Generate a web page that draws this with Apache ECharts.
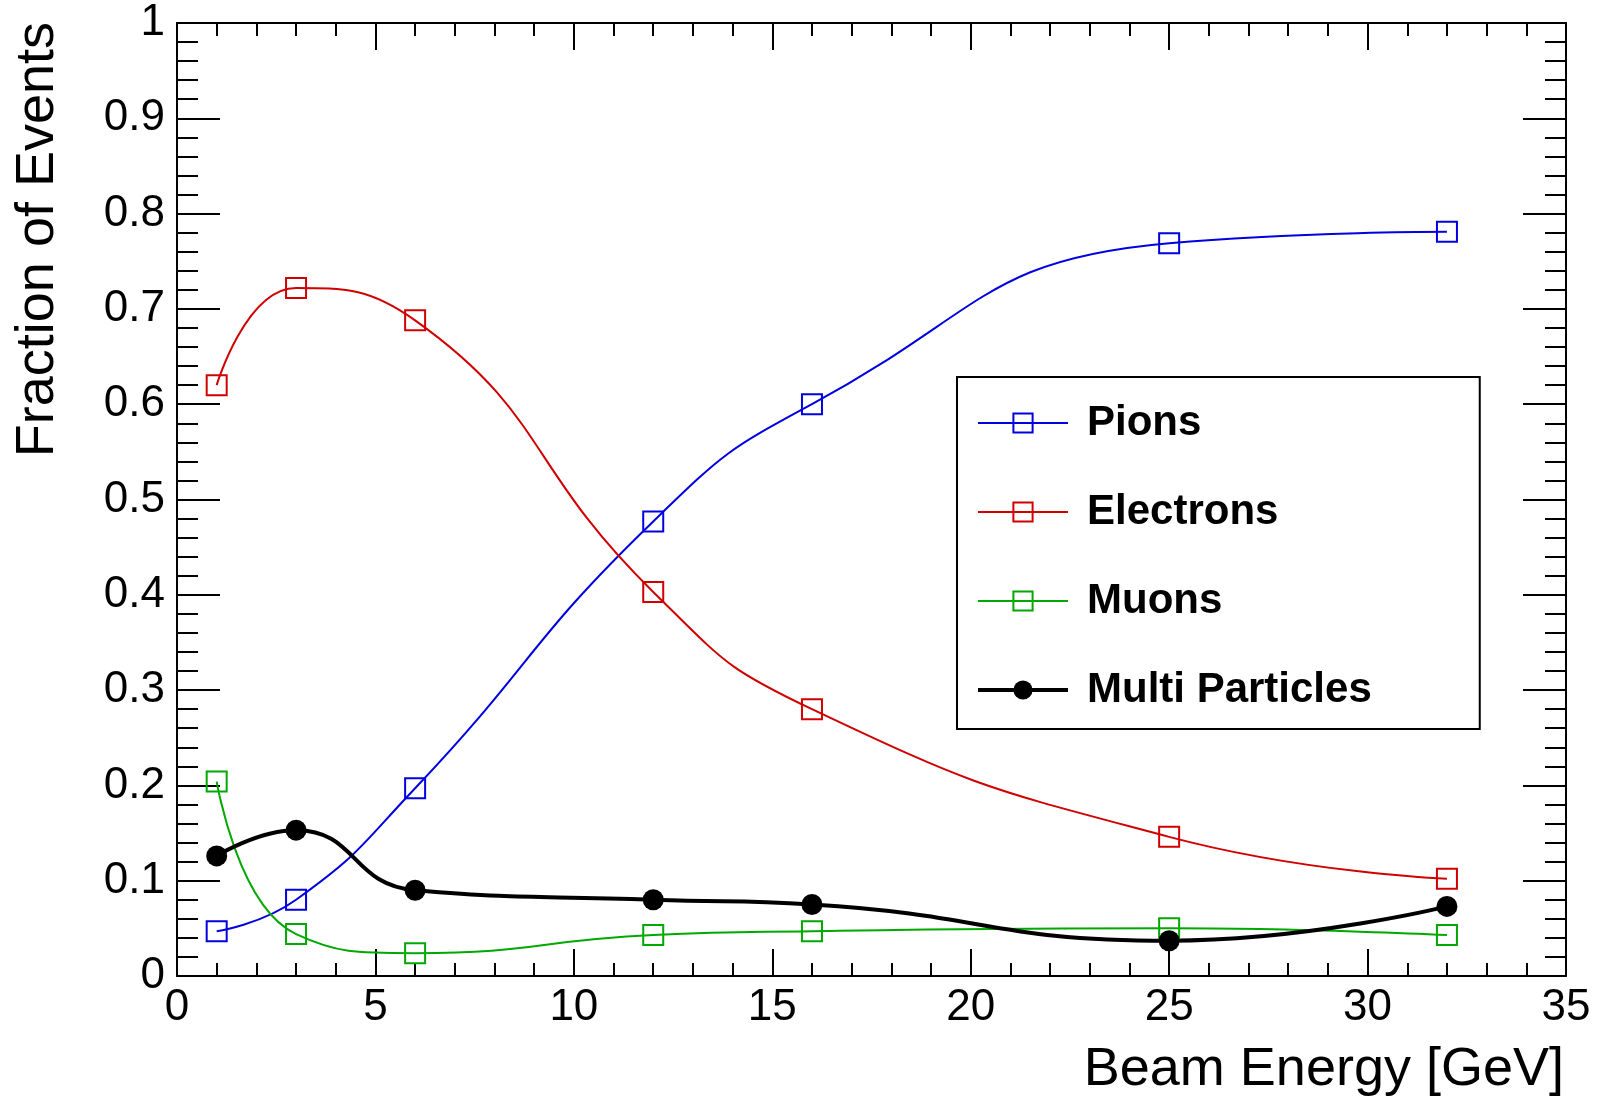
<!DOCTYPE html>
<html>
<head>
    <meta charset="utf-8"/>
    <title>Fraction of Events vs Beam Energy</title>
    <script src="https://cdn.jsdelivr.net/npm/echarts@6/dist/echarts.min.js"></script>
    <style>
        html, body { margin: 0; padding: 0; background: #fff; }
        #chart { width: 1598px; height: 1099px; }
    </style>
</head>
<body>
<div id="chart"></div>
<script>
    // 束流能量 (GeV)
    var energies = [1, 3, 6, 12, 16, 25, 32];
    var pions = [0.047, 0.080, 0.197, 0.477, 0.600, 0.769, 0.781];
    var electrons = [0.620, 0.722, 0.688, 0.403, 0.280, 0.146, 0.102];
    var muons = [0.204, 0.044, 0.024, 0.043, 0.047, 0.050, 0.043];
    var multi = [0.126, 0.153, 0.090, 0.080, 0.075, 0.037, 0.073];

    var FONT = '"Liberation Sans", Arial, Helvetica, sans-serif';

    function pairs(ys) {
        return energies.map(function (x, i) { return [x, ys[i]]; });
    }

    function openSeries(name, ys, color) {
        return {
            name: name,
            type: 'line',
            data: pairs(ys),
            smooth: 0.5,
            symbol: 'rect',
            symbolSize: 20,
            color: color,
            lineStyle: { color: color, width: 2 },
            itemStyle: { color: 'rgba(0,0,0,0)', borderColor: color, borderWidth: 2 }
        };
    }

    // 坐标轴公共样式
    function xAxisCfg(pos, labels) {
        return {
            type: 'value', position: pos, min: 0, max: 35, interval: 5,
            axisLine: { show: true, onZero: false, lineStyle: { color: '#000', width: 2 } },
            axisTick: { show: true, inside: true, length: 27, lineStyle: { color: '#000', width: 2 } },
            minorTick: { show: true, splitNumber: 5, length: 13, lineStyle: { color: '#000', width: 2 } },
            axisLabel: { show: labels, margin: 10, color: '#000', fontSize: 44, fontFamily: FONT,
                showMinLabel: true, showMaxLabel: true },
            splitLine: { show: false }
        };
    }

    function yAxisCfg(pos, labels) {
        return {
            type: 'value', position: pos, min: 0, max: 1, interval: 0.1,
            axisLine: { show: true, onZero: false, lineStyle: { color: '#000', width: 2 } },
            axisTick: { show: true, inside: true, length: 43, lineStyle: { color: '#000', width: 2 } },
            minorTick: { show: true, splitNumber: 5, length: 21, lineStyle: { color: '#000', width: 2 } },
            axisLabel: { show: labels, margin: 12, color: '#000', fontSize: 44, fontFamily: FONT,
                showMinLabel: true, showMaxLabel: true,
                formatter: function (v) { return v === 0 ? '0' : (v === 1 ? '1' : v.toFixed(1)); } },
            splitLine: { show: false }
        };
    }

    var chart = echarts.init(document.getElementById('chart'));
    chart.setOption({
        animation: false,
        backgroundColor: '#fff',
        grid: { left: 177, top: 23, right: 32, bottom: 123, containLabel: false },
        xAxis: [xAxisCfg('bottom', true), xAxisCfg('top', false)],
        yAxis: [yAxisCfg('left', true), yAxisCfg('right', false)],
        legend: {
            orient: 'vertical',
            left: 957,
            top: 377,
            padding: [25, 108, 18, 19],
            itemGap: 47,
            itemWidth: 90,
            itemHeight: 24,
            borderColor: '#000',
            borderWidth: 2,
            backgroundColor: '#fff',
            textStyle: { color: '#000', fontSize: 42, fontWeight: 'bold', fontFamily: FONT, padding: [0, 0, 0, 14] },
            data: [
                { name: 'Pions' },
                { name: 'Electrons' },
                { name: 'Muons' },
                { name: 'Multi Particles', lineStyle: { width: 4 } }
            ]
        },
        graphic: [
            { type: 'text', x: 1564, y: 1070,
              style: { text: 'Beam Energy [GeV]', fill: '#000', font: '54px ' + FONT, align: 'right', verticalAlign: 'middle' } },
            { type: 'text', x: 38, y: 22, rotation: Math.PI / 2,
              style: { text: 'Fraction of Events', fill: '#000', font: '54px ' + FONT, align: 'right', verticalAlign: 'middle' } }
        ],
        series: [
            openSeries('Pions', pions, '#0000e0'),
            openSeries('Electrons', electrons, '#d00000'),
            openSeries('Muons', muons, '#00a800'),
            {
                name: 'Multi Particles',
                type: 'line',
                data: pairs(multi),
                smooth: 0.5,
                symbol: 'circle',
                symbolSize: 21,
                color: '#000',
                lineStyle: { color: '#000', width: 4 },
                itemStyle: { color: '#000' }
            }
        ]
    });
</script>
</body>
</html>
